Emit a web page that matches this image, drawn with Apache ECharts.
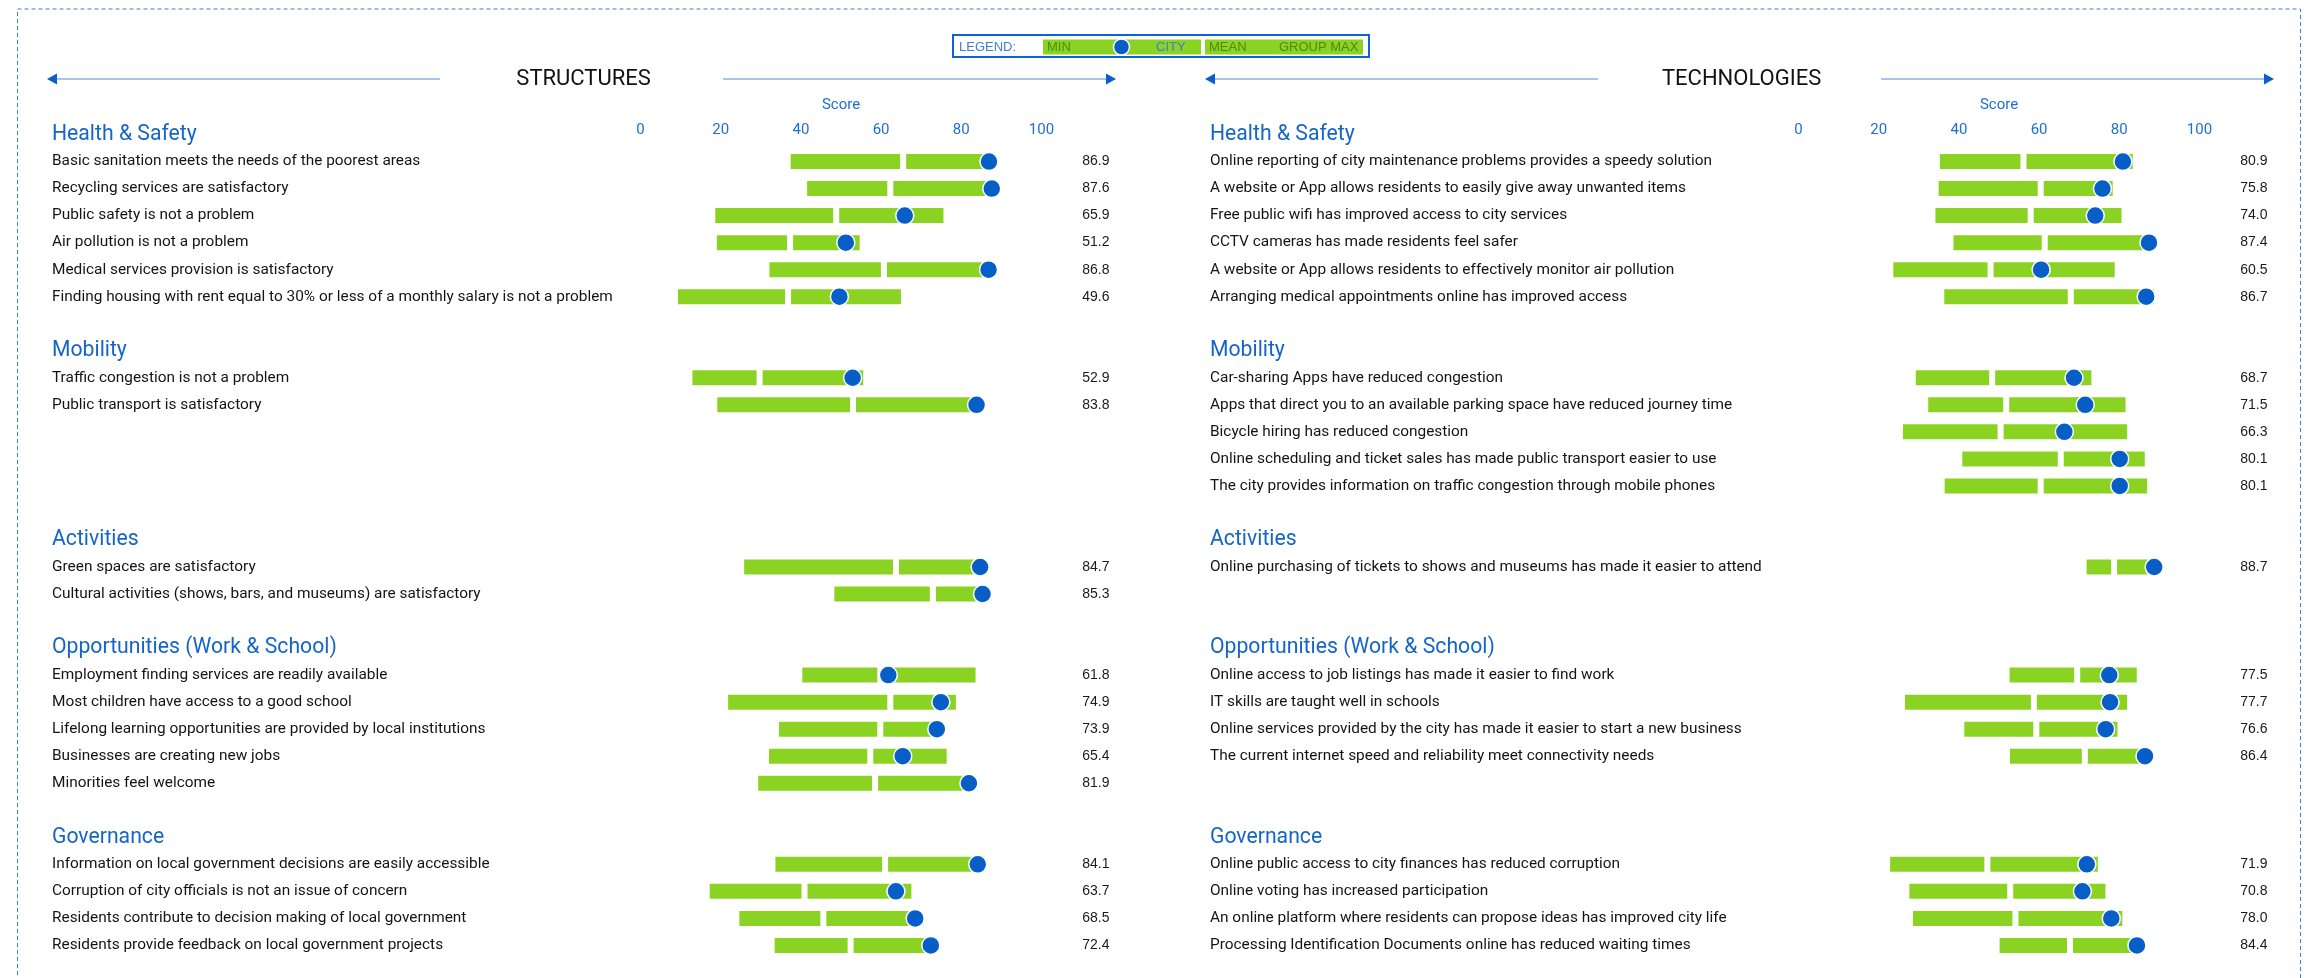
<!DOCTYPE html>
<html><head><meta charset="utf-8">
<script src="https://cdn.jsdelivr.net/npm/echarts@6/dist/echarts.min.js"></script>
<style>html,body{margin:0;padding:0;background:#fff}#c{width:2316px;height:978px}</style>
</head><body><div id="c"></div>
<script>
// ---------- DATA ----------
const groupNames = ['Health & Safety', 'Mobility', 'Activities', 'Opportunities (Work & School)', 'Governance'];
const tickValues = [0, 20, 40, 60, 80, 100];

const structGroupSizes = [6, 2, 2, 5, 4];
const structItems = [
  'Basic sanitation meets the needs of the poorest areas',
  'Recycling services are satisfactory',
  'Public safety is not a problem',
  'Air pollution is not a problem',
  'Medical services provision is satisfactory',
  'Finding housing with rent equal to 30% or less of a monthly salary is not a problem',
  'Traffic congestion is not a problem',
  'Public transport is satisfactory',
  'Green spaces are satisfactory',
  'Cultural activities (shows, bars, and museums) are satisfactory',
  'Employment finding services are readily available',
  'Most children have access to a good school',
  'Lifelong learning opportunities are provided by local institutions',
  'Businesses are creating new jobs',
  'Minorities feel welcome',
  'Information on local government decisions are easily accessible',
  'Corruption of city officials is not an issue of concern',
  'Residents contribute to decision making of local government',
  'Residents provide feedback on local government projects'
];
const structMin  = [36.7, 40.8, 17.9, 18.3, 31.4, 8.6, 12.2, 18.4, 25.1, 47.6, 39.6, 21.1, 33.8, 31.3, 28.6, 32.9, 16.5, 23.9, 32.7];
const structMean = [65.5, 62.3, 48.8, 37.3, 60.7, 36.8, 29.7, 53.0, 63.7, 72.9, 59.8, 62.3, 59.8, 57.3, 58.5, 61.0, 40.9, 45.6, 52.4];
const structMax  = [88.0, 88.0, 76.3, 55.4, 87.0, 65.7, 56.3, 85.7, 86.0, 86.5, 84.3, 79.4, 76.1, 77.1, 83.4, 86.5, 68.3, 70.0, 73.5];
const structCity = [86.9, 87.6, 65.9, 51.2, 86.8, 49.6, 52.9, 83.8, 84.7, 85.3, 61.8, 74.9, 73.9, 65.4, 81.9, 84.1, 63.7, 68.5, 72.4];

const techGroupSizes = [6, 5, 1, 4, 4];
const techItems = [
  'Online reporting of city maintenance problems provides a speedy solution',
  'A website or App allows residents to easily give away unwanted items',
  'Free public wifi has improved access to city services',
  'CCTV cameras has made residents feel safer',
  'A website or App allows residents to effectively monitor air pollution',
  'Arranging medical appointments online has improved access',
  'Car-sharing Apps have reduced congestion',
  'Apps that direct you to an available parking space have reduced journey time',
  'Bicycle hiring has reduced congestion',
  'Online scheduling and ticket sales has made public transport easier to use',
  'The city provides information on traffic congestion through mobile phones',
  'Online purchasing of tickets to shows and museums has made it easier to attend',
  'Online access to job listings has made it easier to find work',
  'IT skills are taught well in schools',
  'Online services provided by the city has made it easier to start a new business',
  'The current internet speed and reliability meet connectivity needs',
  'Online public access to city finances has reduced corruption',
  'Online voting has increased participation',
  'An online platform where residents can propose ideas has improved city life',
  'Processing Identification Documents online has reduced waiting times'
];
const techMin  = [34.5, 34.2, 33.4, 37.9, 22.9, 35.6, 28.5, 31.6, 25.3, 40.1, 35.7, 71.1, 51.9, 25.8, 40.6, 52.0, 22.1, 26.9, 27.8, 49.4];
const techMean = [56.1, 60.4, 57.9, 61.4, 47.9, 67.9, 48.3, 51.8, 50.4, 65.4, 60.4, 78.7, 69.5, 58.7, 59.3, 71.4, 47.1, 52.8, 54.1, 67.7];
const techMax  = [84.1, 79.1, 81.3, 88.5, 79.6, 89.3, 73.8, 82.3, 82.7, 87.1, 87.7, 90.1, 85.1, 82.7, 80.3, 88.3, 75.4, 77.3, 81.5, 86.6];
const techCity = [80.9, 75.8, 74.0, 87.4, 60.5, 86.7, 68.7, 71.5, 66.3, 80.1, 80.1, 88.7, 77.5, 77.7, 76.6, 86.4, 71.9, 70.8, 78.0, 84.4];

// ---------- LAYOUT BUILD ----------
function buildPanel(sizes, items, mn, me, mx, ct) {
  const p = {cats: [], kinds: [], texts: [], base: [], low: [], high: [], city: [], cityPts: []};
  let k = 0;
  const pushSlot = (key, kind, text, b, l, h, c) => {
    p.cats.push(key); p.kinds.push(kind); p.texts.push(text);
    p.base.push(b); p.low.push(l); p.high.push(h); p.city.push(c);
    if (c != null) p.cityPts.push([c, key]);
  };
  groupNames.forEach((g, gi) => {
    const cap = Math.max(structGroupSizes[gi], techGroupSizes[gi]);
    pushSlot('H' + gi, 'h', g, null, null, null, null);
    for (let r = 0; r < cap; r++) {
      if (r < sizes[gi]) {
        pushSlot('R' + k, 'r', items[k], mn[k], +(me[k] - mn[k]).toFixed(2), +(mx[k] - me[k]).toFixed(2), ct[k]);
        k++;
      } else {
        pushSlot('B' + gi + '_' + r, 'b', '', null, null, null, null);
      }
    }
    if (gi < groupNames.length - 1) pushSlot('E' + gi, 'b', '', null, null, null, null);
  });
  return p;
}
const panels = [
  buildPanel(structGroupSizes, structItems, structMin, structMean, structMax, structCity),
  buildPanel(techGroupSizes, techItems, techMin, techMean, techMax, techCity)
];

// ---------- STYLE ----------
const GREEN = '#8bd322', BLUE = '#075ec7', AXBLUE = '#1f6fd1', HEADBLUE = '#1565c8';
const panelOffset = 1158;
const plotLeft = 640.5, plotWidth = 401, slotH = 27.03, gridTop = 121;
const labelLeft = 52;

const grids = [], xAxes = [], yAxes = [], series = [];
panels.forEach((p, i) => {
  const left = plotLeft + i * panelOffset;
  grids.push({left: left, top: gridTop, width: plotWidth, height: slotH * p.cats.length, containLabel: false});
  xAxes.push({
    type: 'value', gridIndex: i, position: 'top',
    min: tickValues[0], max: tickValues[tickValues.length - 1], interval: tickValues[1] - tickValues[0],
    axisLine: {show: false}, axisTick: {show: false}, splitLine: {show: false},
    axisLabel: {color: AXBLUE, fontFamily: 'Roboto', fontSize: 15, margin: -9, verticalAlign: 'middle'},
    name: 'Score', nameLocation: 'middle', nameGap: 16,
    nameTextStyle: {color: AXBLUE, fontFamily: 'Roboto', fontSize: 15, verticalAlign: 'middle'}
  });
  yAxes.push({
    type: 'category', gridIndex: i, data: p.cats, inverse: true, position: 'left',
    axisLine: {show: false}, axisTick: {show: false}, splitLine: {show: false},
    axisLabel: {
      interval: 0, align: 'left', margin: left - (labelLeft + i * panelOffset),
      formatter: (v, idx) => p.kinds[idx] === 'h' ? '{h|' + p.texts[idx] + '}' : (p.kinds[idx] === 'r' ? '{r|' + p.texts[idx] + '}' : ''),
      rich: {
        h: {fontFamily: 'Roboto', fontSize: 21.2, color: HEADBLUE},
        r: {fontFamily: 'Roboto', fontSize: 15.4, color: '#141414'}
      }
    }
  });
  yAxes.push({
    type: 'category', gridIndex: i, data: p.cats, inverse: true, position: 'right',
    axisLine: {show: false}, axisTick: {show: false}, splitLine: {show: false},
    axisLabel: {
      interval: 0, align: 'right', margin: 68,
      fontFamily: 'Liberation Sans', fontSize: 14, color: '#1a1a1a',
      formatter: (v, idx) => p.city[idx] != null ? p.city[idx].toFixed(1) : ''
    }
  });
  const barCommon = {type: 'bar', xAxisIndex: i, yAxisIndex: 2 * i, stack: 'p' + i, barWidth: 21, silent: true};
  series.push(Object.assign({}, barCommon, {name: 'base' + i, data: p.base, itemStyle: {color: 'rgba(0,0,0,0)'}}));
  series.push(Object.assign({}, barCommon, {name: 'low' + i, data: p.low, itemStyle: {color: GREEN, borderColor: '#ffffff', borderWidth: 3}}));
  series.push(Object.assign({}, barCommon, {name: 'high' + i, data: p.high, itemStyle: {color: GREEN, borderColor: '#ffffff', borderWidth: 3}}));
  series.push({
    type: 'scatter', xAxisIndex: i, yAxisIndex: 2 * i, data: p.cityPts, symbolSize: 18, z: 5, silent: true,
    itemStyle: {color: BLUE, borderColor: '#ffffff', borderWidth: 1.5, opacity: 1}
  });
});

// ---------- DECORATIONS ----------
const graphics = [];
graphics.push({type: 'rect', silent: true, shape: {x: 17.5, y: 9, width: 2283, height: 1000},
  style: {fill: 'none', stroke: '#3d7fd6', lineWidth: 1, lineDash: [4, 3]}});
const titles = ['STRUCTURES', 'TECHNOLOGIES'];
titles.forEach((t, i) => {
  const o = i * panelOffset;
  graphics.push({type: 'text', silent: true, x: 583.6 + o, y: 79,
    style: {text: t, fill: '#111', fontFamily: 'Roboto', fontSize: 22, align: 'center', verticalAlign: 'middle'}});
  graphics.push({type: 'line', silent: true, shape: {x1: 56 + o, y1: 79, x2: 440 + o, y2: 79}, style: {stroke: '#a9c5ea', lineWidth: 2}});
  graphics.push({type: 'polygon', silent: true, shape: {points: [[47 + o, 79], [57 + o, 73.5], [57 + o, 84.5]]}, style: {fill: '#0a5fc8'}});
  graphics.push({type: 'line', silent: true, shape: {x1: 723 + o, y1: 79, x2: 1107 + o, y2: 79}, style: {stroke: '#a9c5ea', lineWidth: 2}});
  graphics.push({type: 'polygon', silent: true, shape: {points: [[1116 + o, 79], [1106 + o, 73.5], [1106 + o, 84.5]]}, style: {fill: '#0a5fc8'}});
});
// legend
const LEGTXT = '#3f7fd4', LEGGREEN = '#4e8a12';
const lf = {fontFamily: 'Liberation Sans', fontSize: 13, verticalAlign: 'middle', align: 'left'};
graphics.push({type: 'rect', silent: true, shape: {x: 953, y: 35, width: 416, height: 22}, style: {fill: '#fff', stroke: '#0b63d6', lineWidth: 2}});
graphics.push({type: 'rect', silent: true, shape: {x: 1043, y: 39.5, width: 158, height: 15}, style: {fill: GREEN}});
graphics.push({type: 'rect', silent: true, shape: {x: 1205, y: 39.5, width: 158, height: 15}, style: {fill: GREEN}});
graphics.push({type: 'text', silent: true, x: 959, y: 47, style: Object.assign({text: 'LEGEND:', fill: LEGTXT}, lf)});
graphics.push({type: 'text', silent: true, x: 1047, y: 47, style: Object.assign({text: 'MIN', fill: LEGGREEN}, lf)});
graphics.push({type: 'circle', silent: true, shape: {cx: 1121.5, cy: 47, r: 8}, style: {fill: BLUE, stroke: '#fff', lineWidth: 1.5}});
graphics.push({type: 'text', silent: true, x: 1156, y: 47, style: Object.assign({text: 'CITY', fill: LEGTXT}, lf)});
graphics.push({type: 'text', silent: true, x: 1209, y: 47, style: Object.assign({text: 'MEAN', fill: LEGGREEN}, lf)});
graphics.push({type: 'text', silent: true, x: 1279, y: 47, style: Object.assign({text: 'GROUP MAX', fill: LEGGREEN}, lf)});

const chart = echarts.init(document.getElementById('c'), null, {renderer: 'canvas'});
chart.setOption({
  backgroundColor: '#ffffff',
  animation: false,
  grid: grids, xAxis: xAxes, yAxis: yAxes, series: series,
  graphic: graphics
});
</script></body></html>
